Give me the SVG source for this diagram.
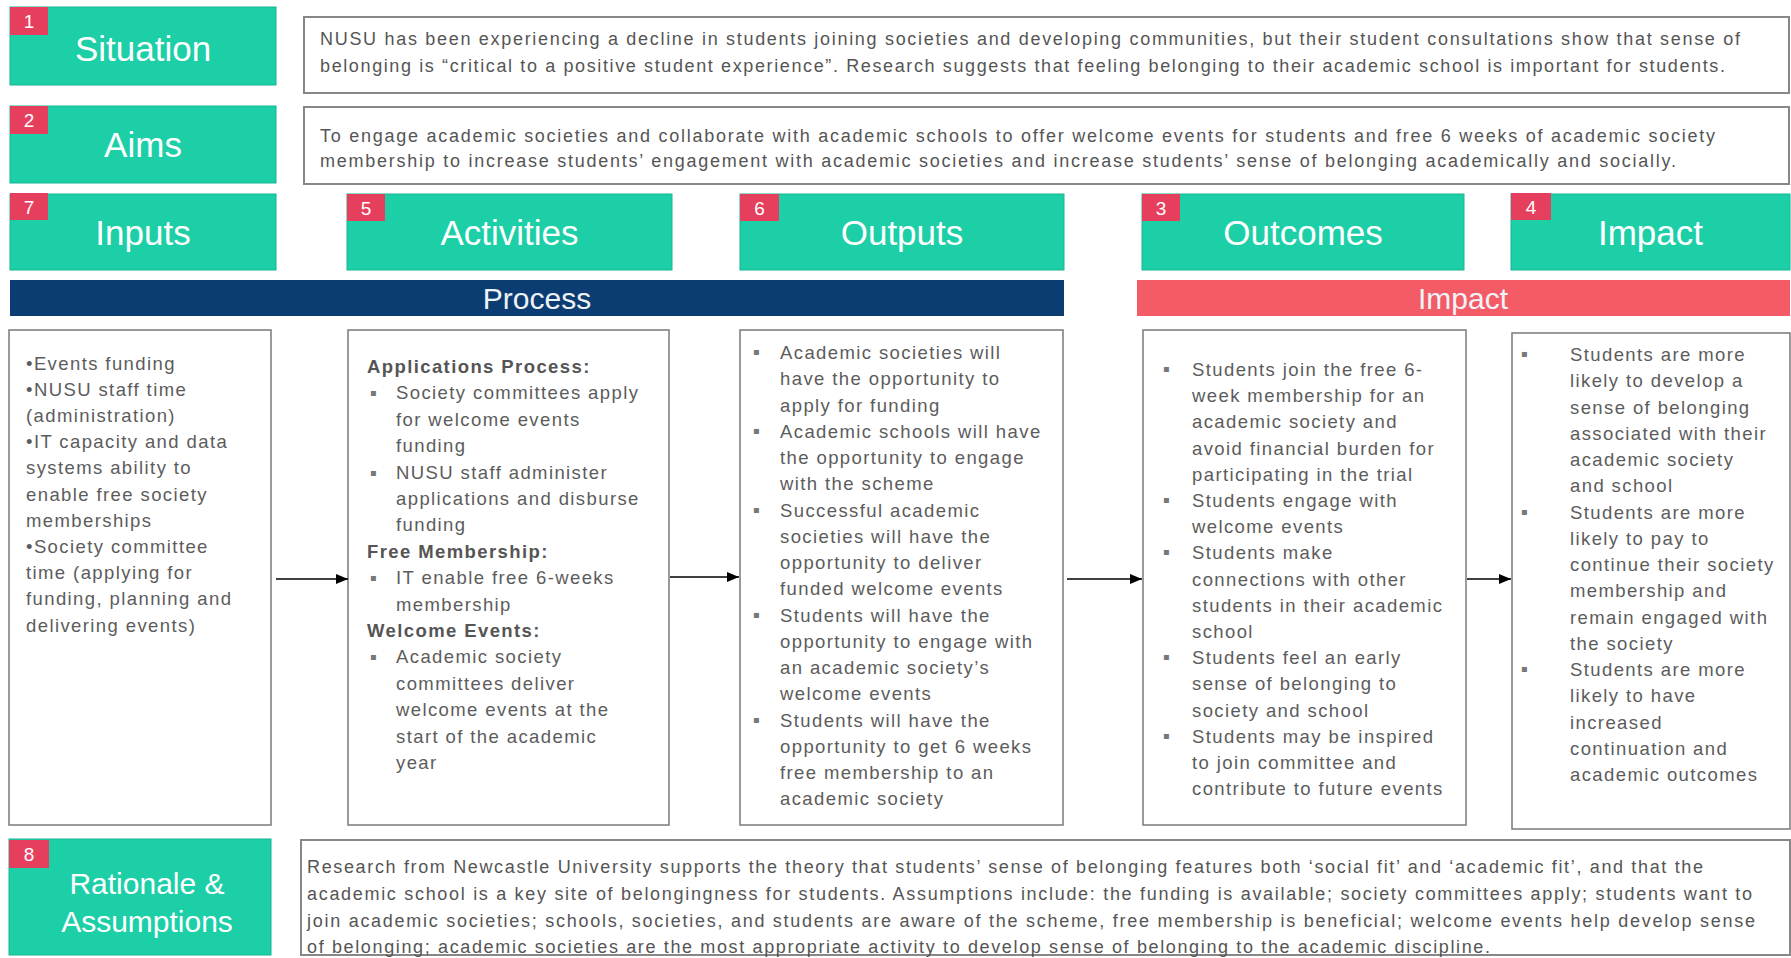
<svg xmlns="http://www.w3.org/2000/svg" width="1791" height="958" viewBox="0 0 1791 958">
  <style>
    .hdbox { fill: #1ccfa7; stroke: #15b592; stroke-width: 1; }
    .badge { fill: #e63f5e; }
    .badgenum { font-family: "Liberation Sans", Arial, sans-serif; font-size: 19px; fill: #ffffff; text-anchor: middle; }
    .hd { font-family: "Liberation Sans", Arial, sans-serif; font-size: 35px; fill: #ffffff; text-anchor: middle; }
    .hd2 { font-family: "Liberation Sans", Arial, sans-serif; font-size: 30px; fill: #ffffff; text-anchor: middle; }
    .txtbox { fill: #ffffff; stroke: #878787; stroke-width: 2; }
    .colbox { fill: #ffffff; stroke: #7a7a7a; stroke-width: 1.5; }
    .para { font-family: "Liberation Sans", Arial, sans-serif; font-size: 18px; fill: #555555; }
    .body { font-family: "Liberation Sans", Arial, sans-serif; font-size: 18.5px; letter-spacing: 1.4px; fill: #5c5c5c; }
    .bold { font-weight: bold; fill: #555555; }
    .blt { font-family: "DejaVu Sans", sans-serif; font-size: 10px; fill: #777777; }
    .bartxt { font-family: "Liberation Sans", Arial, sans-serif; font-size: 30px; fill: #eef3f8; text-anchor: middle; }
    .conn { stroke: #000000; stroke-width: 1.6; fill: none; marker-end: url(#arrow); }
  </style>
  <defs>
    <marker id="arrow" viewBox="0 0 12 10" refX="12" refY="5" markerWidth="12" markerHeight="10" markerUnits="userSpaceOnUse" orient="auto">
      <path d="M0,0 L12,5 L0,10 z" fill="#000000"/>
    </marker>
  </defs>

  <rect width="1791" height="958" fill="#ffffff"/>

  <!-- Situation -->
  <g id="situation">
    <rect class="hdbox" x="10" y="7" width="266" height="78"/>
    <rect class="badge" x="10" y="7" width="38" height="28"/>
    <text class="badgenum" x="29" y="28">1</text>
    <text class="hd" x="143" y="61">Situation</text>
  </g>
  <g id="situation-text">
    <rect class="txtbox" x="304" y="17" width="1485" height="76"/>
    <text class="para" x="320" y="45" textLength="1420">NUSU has been experiencing a decline in students joining societies and developing communities, but their student consultations show that sense of</text>
    <text class="para" x="320" y="72" textLength="1405">belonging is “critical to a positive student experience”. Research suggests that feeling belonging to their academic school is important for students.</text>
  </g>

  <!-- Aims -->
  <g id="aims">
    <rect class="hdbox" x="10" y="106" width="266" height="77"/>
    <rect class="badge" x="10" y="106" width="38" height="28"/>
    <text class="badgenum" x="29" y="127">2</text>
    <text class="hd" x="143" y="157">Aims</text>
  </g>
  <g id="aims-text">
    <rect class="txtbox" x="304" y="107" width="1485" height="77"/>
    <text class="para" x="320" y="142" textLength="1395">To engage academic societies and collaborate with academic schools to offer welcome events for students and free 6 weeks of academic society</text>
    <text class="para" x="320" y="166.5" textLength="1356">membership to increase students’ engagement with academic societies and increase students’ sense of belonging academically and socially.</text>
  </g>

  <!-- Column headers -->
  <g id="inputs-header">
    <rect class="hdbox" x="10" y="194" width="266" height="76"/>
    <rect class="badge" x="10" y="193" width="38" height="27"/>
    <text class="badgenum" x="29" y="214">7</text>
    <text class="hd" x="143" y="245">Inputs</text>
  </g>
  <g id="activities-header">
    <rect class="hdbox" x="347" y="194" width="325" height="76"/>
    <rect class="badge" x="347" y="194" width="38" height="27"/>
    <text class="badgenum" x="366" y="215">5</text>
    <text class="hd" x="509.5" y="245">Activities</text>
  </g>
  <g id="outputs-header">
    <rect class="hdbox" x="740" y="194" width="324" height="76"/>
    <rect class="badge" x="740" y="194" width="39" height="27"/>
    <text class="badgenum" x="759.5" y="215">6</text>
    <text class="hd" x="902" y="245">Outputs</text>
  </g>
  <g id="outcomes-header">
    <rect class="hdbox" x="1142" y="194" width="322" height="76"/>
    <rect class="badge" x="1142" y="194" width="38" height="27"/>
    <text class="badgenum" x="1161" y="215">3</text>
    <text class="hd" x="1303" y="245">Outcomes</text>
  </g>
  <g id="impact-header">
    <rect class="hdbox" x="1511" y="194" width="279" height="76"/>
    <rect class="badge" x="1511" y="193" width="40" height="27"/>
    <text class="badgenum" x="1531" y="214">4</text>
    <text class="hd" x="1650.5" y="245">Impact</text>
  </g>

  <!-- Band labels -->
  <g id="process-bar">
    <rect x="10" y="280" width="1054" height="36" fill="#0c3d72"/>
    <text class="bartxt" x="537" y="309">Process</text>
  </g>
  <g id="impact-bar">
    <rect x="1137" y="280" width="653" height="36" fill="#f35c67"/>
    <text class="bartxt" x="1463" y="309">Impact</text>
  </g>

  <!-- Inputs body -->
  <g id="inputs">
    <rect class="colbox" x="9" y="330" width="262" height="495"/>
    <text class="body">
      <tspan x="26" y="369.5">•Events funding</tspan>
      <tspan x="26" dy="26.2">•NUSU staff time</tspan>
      <tspan x="26" dy="26.2">(administration)</tspan>
      <tspan x="26" dy="26.2">•IT capacity and data</tspan>
      <tspan x="26" dy="26.2">systems ability to</tspan>
      <tspan x="26" dy="26.2">enable free society</tspan>
      <tspan x="26" dy="26.2">memberships</tspan>
      <tspan x="26" dy="26.2">•Society committee</tspan>
      <tspan x="26" dy="26.2">time (applying for</tspan>
      <tspan x="26" dy="26.2">funding, planning and</tspan>
      <tspan x="26" dy="26.2">delivering events)</tspan>
    </text>
  </g>

  <!-- Activities body -->
  <g id="activities">
    <rect class="colbox" x="348" y="330" width="321" height="495"/>
    <text class="body">
      <tspan class="bold" x="367" y="373">Applications Process:</tspan>
      <tspan x="396" dy="26.4">Society committees apply</tspan>
      <tspan x="396" dy="26.4">for welcome events</tspan>
      <tspan x="396" dy="26.4">funding</tspan>
      <tspan x="396" dy="26.4">NUSU staff administer</tspan>
      <tspan x="396" dy="26.4">applications and disburse</tspan>
      <tspan x="396" dy="26.4">funding</tspan>
      <tspan class="bold" x="367" dy="26.4">Free Membership:</tspan>
      <tspan x="396" dy="26.4">IT enable free 6-weeks</tspan>
      <tspan x="396" dy="26.4">membership</tspan>
      <tspan class="bold" x="367" dy="26.4">Welcome Events:</tspan>
      <tspan x="396" dy="26.4">Academic society</tspan>
      <tspan x="396" dy="26.4">committees deliver</tspan>
      <tspan x="396" dy="26.4">welcome events at the</tspan>
      <tspan x="396" dy="26.4">start of the academic</tspan>
      <tspan x="396" dy="26.4">year</tspan>
    </text>
    <text class="blt" x="370" y="396.4">▪</text>
    <text class="blt" x="370" y="475.6">▪</text>
    <text class="blt" x="370" y="581.2">▪</text>
    <text class="blt" x="370" y="660.4">▪</text>
  </g>

  <!-- Outputs body -->
  <g id="outputs">
    <rect class="colbox" x="740" y="330" width="323" height="495"/>
    <text class="body">
      <tspan x="780" y="359">Academic societies will</tspan>
      <tspan x="780" dy="26.25">have the opportunity to</tspan>
      <tspan x="780" dy="26.25">apply for funding</tspan>
      <tspan x="780" dy="26.25">Academic schools will have</tspan>
      <tspan x="780" dy="26.25">the opportunity to engage</tspan>
      <tspan x="780" dy="26.25">with the scheme</tspan>
      <tspan x="780" dy="26.25">Successful academic</tspan>
      <tspan x="780" dy="26.25">societies will have the</tspan>
      <tspan x="780" dy="26.25">opportunity to deliver</tspan>
      <tspan x="780" dy="26.25">funded welcome events</tspan>
      <tspan x="780" dy="26.25">Students will have the</tspan>
      <tspan x="780" dy="26.25">opportunity to engage with</tspan>
      <tspan x="780" dy="26.25">an academic society’s</tspan>
      <tspan x="780" dy="26.25">welcome events</tspan>
      <tspan x="780" dy="26.25">Students will have the</tspan>
      <tspan x="780" dy="26.25">opportunity to get 6 weeks</tspan>
      <tspan x="780" dy="26.25">free membership to an</tspan>
      <tspan x="780" dy="26.25">academic society</tspan>
    </text>
    <text class="blt" x="753" y="355">▪</text>
    <text class="blt" x="753" y="433.8">▪</text>
    <text class="blt" x="753" y="512.5">▪</text>
    <text class="blt" x="753" y="617.5">▪</text>
    <text class="blt" x="753" y="722.5">▪</text>
  </g>

  <!-- Outcomes body -->
  <g id="outcomes">
    <rect class="colbox" x="1143" y="330" width="323" height="495"/>
    <text class="body">
      <tspan x="1192" y="376">Students join the free 6-</tspan>
      <tspan x="1192" dy="26.2">week membership for an</tspan>
      <tspan x="1192" dy="26.2">academic society and</tspan>
      <tspan x="1192" dy="26.2">avoid financial burden for</tspan>
      <tspan x="1192" dy="26.2">participating in the trial</tspan>
      <tspan x="1192" dy="26.2">Students engage with</tspan>
      <tspan x="1192" dy="26.2">welcome events</tspan>
      <tspan x="1192" dy="26.2">Students make</tspan>
      <tspan x="1192" dy="26.2">connections with other</tspan>
      <tspan x="1192" dy="26.2">students in their academic</tspan>
      <tspan x="1192" dy="26.2">school</tspan>
      <tspan x="1192" dy="26.2">Students feel an early</tspan>
      <tspan x="1192" dy="26.2">sense of belonging to</tspan>
      <tspan x="1192" dy="26.2">society and school</tspan>
      <tspan x="1192" dy="26.2">Students may be inspired</tspan>
      <tspan x="1192" dy="26.2">to join committee and</tspan>
      <tspan x="1192" dy="26.2">contribute to future events</tspan>
    </text>
    <text class="blt" x="1163" y="372">▪</text>
    <text class="blt" x="1163" y="503">▪</text>
    <text class="blt" x="1163" y="555.4">▪</text>
    <text class="blt" x="1163" y="660.2">▪</text>
    <text class="blt" x="1163" y="738.8">▪</text>
  </g>

  <!-- Impact body -->
  <g id="impact">
    <rect class="colbox" x="1512" y="333" width="278" height="496"/>
    <text class="body">
      <tspan x="1570" y="361">Students are more</tspan>
      <tspan x="1570" dy="26.25">likely to develop a</tspan>
      <tspan x="1570" dy="26.25">sense of belonging</tspan>
      <tspan x="1570" dy="26.25">associated with their</tspan>
      <tspan x="1570" dy="26.25">academic society</tspan>
      <tspan x="1570" dy="26.25">and school</tspan>
      <tspan x="1570" dy="26.25">Students are more</tspan>
      <tspan x="1570" dy="26.25">likely to pay to</tspan>
      <tspan x="1570" dy="26.25">continue their society</tspan>
      <tspan x="1570" dy="26.25">membership and</tspan>
      <tspan x="1570" dy="26.25">remain engaged with</tspan>
      <tspan x="1570" dy="26.25">the society</tspan>
      <tspan x="1570" dy="26.25">Students are more</tspan>
      <tspan x="1570" dy="26.25">likely to have</tspan>
      <tspan x="1570" dy="26.25">increased</tspan>
      <tspan x="1570" dy="26.25">continuation and</tspan>
      <tspan x="1570" dy="26.25">academic outcomes</tspan>
    </text>
    <text class="blt" x="1521" y="357">▪</text>
    <text class="blt" x="1521" y="514.5">▪</text>
    <text class="blt" x="1521" y="672">▪</text>
  </g>

  <!-- Rationale & Assumptions -->
  <g id="rationale">
    <rect class="hdbox" x="9" y="839" width="262" height="116"/>
    <rect class="badge" x="9" y="840" width="40" height="28"/>
    <text class="badgenum" x="29" y="861">8</text>
    <text class="hd2" x="147" y="894">Rationale &amp;</text>
    <text class="hd2" x="147" y="932">Assumptions</text>
  </g>
  <g id="rationale-text">
    <rect class="txtbox" x="301" y="840" width="1489" height="115"/>
    <text class="para" x="307" y="873" textLength="1396">Research from Newcastle University supports the theory that students’ sense of belonging features both ‘social fit’ and ‘academic fit’, and that the</text>
    <text class="para" x="307" y="900" textLength="1445">academic school is a key site of belongingness for students. Assumptions include: the funding is available;  society committees apply; students want to</text>
    <text class="para" x="307" y="927" textLength="1448">join academic societies; schools, societies, and students are aware of the scheme, free membership is beneficial; welcome events help develop sense</text>
    <text class="para" x="307" y="953" textLength="1183">of belonging; academic societies are the most appropriate activity to develop sense of belonging to the academic discipline.</text>
  </g>

  <!-- Connectors between the logic-model stages -->
  <g id="connectors">
    <line class="conn" x1="276" y1="579" x2="348" y2="579"/>
    <line class="conn" x1="670" y1="577" x2="739" y2="577"/>
    <line class="conn" x1="1067" y1="579" x2="1142" y2="579"/>
    <line class="conn" x1="1467" y1="579" x2="1511" y2="579"/>
  </g>
</svg>
